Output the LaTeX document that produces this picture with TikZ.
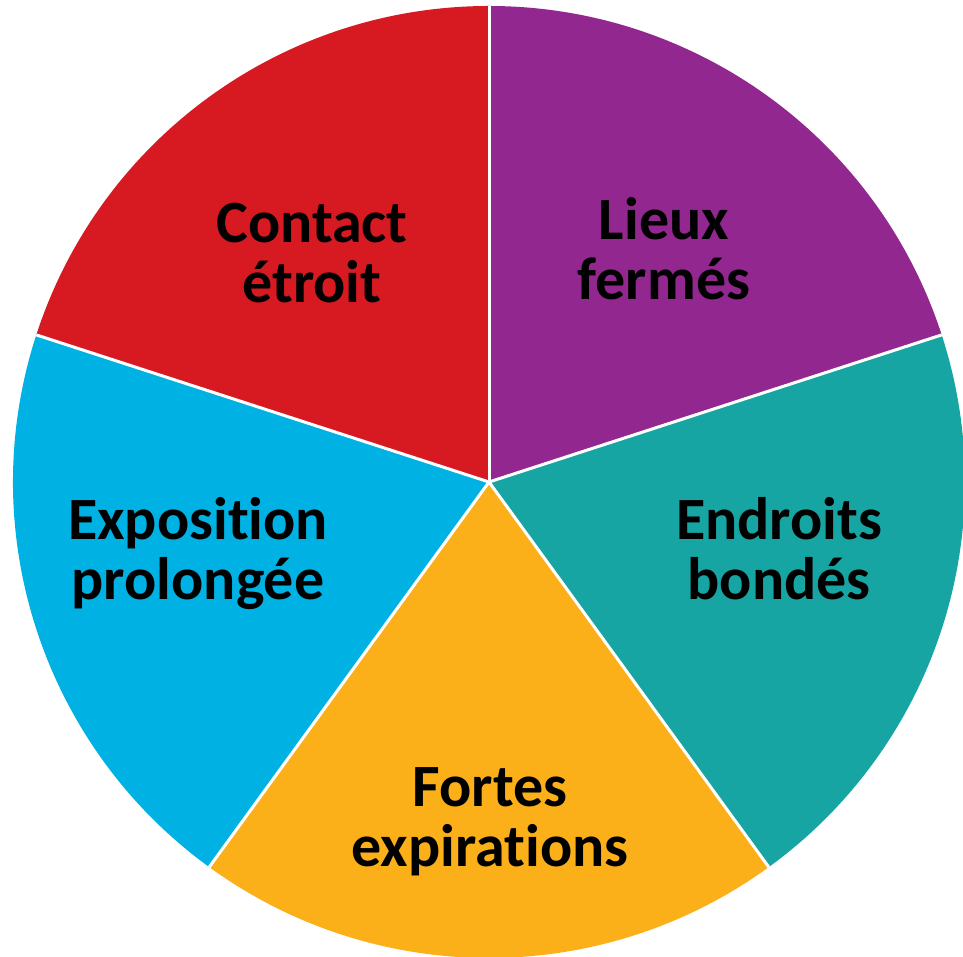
\documentclass[tikz,border=0pt]{standalone}
\usepackage{fontspec}
\setmainfont{Carlito}[Ligatures={NoCommon}]
\definecolor{rouge}{HTML}{D71A21}
\definecolor{violet}{HTML}{92278F}
\definecolor{turquoise}{HTML}{17A5A3}
\definecolor{orange}{HTML}{FBB01A}
\definecolor{bleu}{HTML}{00B2E3}
\begin{document}
\begin{tikzpicture}[x=1pt,y=1pt,style={font=\bfseries\fontsize{60}{60}\selectfont},
  part/.style={line width=3pt,white},
  lbl/.style={align=center,anchor=base,inner sep=0pt}]
\useasboundingbox (0,0) rectangle (963,957);
\clip (0,0) rectangle (963,957);
\coordinate (c) at (489,475);
%slices
\fill[violet] (c) -- ++(18:476) arc (18:90:476) -- cycle;
\fill[rouge] (c) -- ++(90:476) arc (90:162:476) -- cycle;
\fill[bleu] (c) -- ++(162:476) arc (162:234:476) -- cycle;
\fill[orange] (c) -- ++(234:476) arc (234:306:476) -- cycle;
\fill[turquoise] (c) -- ++(306:476) arc (306:378:476) -- cycle;
%white borders
\draw[part] (c) -- ++(18:476);
\draw[part] (c) -- ++(90:476);
\draw[part] (c) -- ++(162:476);
\draw[part] (c) -- ++(234:476);
\draw[part] (c) -- ++(306:476);
%labels
\node[lbl] (contact) at (312,654) {Contact\\étroit};
\node[lbl] (lieux) at (664,657) {Lieux\\fermés};
\node[lbl] (expo) at (198,357) {Exposition\\prolongée};
\node[lbl] (endroits) at (779,357) {Endroits\\bondés};
\node[lbl] (fortes) at (490,90) {Fortes\\expirations};
\end{tikzpicture}
\end{document}
